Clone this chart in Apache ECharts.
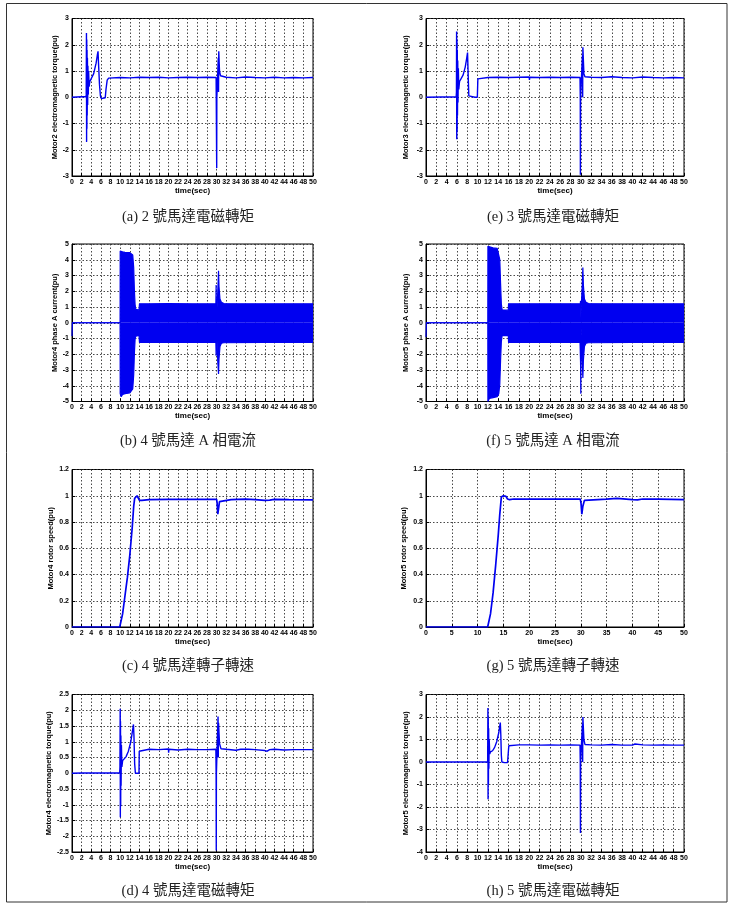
<!DOCTYPE html>
<html><head><meta charset="utf-8">
<script src="https://cdn.jsdelivr.net/npm/echarts@6/dist/echarts.min.js"></script>
<style>html,body{margin:0;padding:0;background:#fff}#c{width:732px;height:906px}</style>
</head><body><div id="c"></div>
<script>
// ---------- data (time s, value pu) ----------
const motor2Torque = [[0,0],[1,0.01],[2,0.02],[2.9,0.02],[2.95,0.1],[3.0,2.45],[3.03,-1.7],[3.06,2.2],[3.09,-1.2],[3.12,1.8],[3.15,-0.7],[3.2,1.5],[3.25,-0.3],[3.3,1.2],[3.38,0.1],[3.45,1.0],[3.55,0.4],[3.7,0.6],[4.0,0.66],[4.5,0.9],[5.0,1.3],[5.25,1.6],[5.4,1.75],[5.5,1.3],[5.7,0.5],[5.9,0.05],[6.1,-0.05],[6.5,-0.06],[6.9,-0.02],[7.05,0.3],[7.3,0.65],[7.6,0.73],[8,0.74],[10,0.75],[12,0.74],[14,0.76],[16,0.75],[18,0.76],[20,0.74],[20.05,0.68],[20.1,0.76],[22,0.75],[24,0.76],[26,0.75],[28,0.76],[29.9,0.75],[30.0,0.7],[30.02,-2.7],[30.05,0],[30.3,0],[30.35,1.5],[30.4,0.2],[30.45,1.75],[30.6,1.0],[30.8,0.82],[31.2,0.78],[32,0.76],[34,0.74],[36,0.77],[38,0.75],[40,0.74],[42,0.76],[44,0.74],[46,0.75],[48,0.74],[50,0.75]];
const motor3Torque = [[0,0],[3,0.01],[5.85,0.01],[5.9,0.2],[5.93,2.5],[5.96,-1.6],[6.0,2.2],[6.03,-1.3],[6.06,1.8],[6.1,-0.7],[6.15,1.4],[6.2,-0.2],[6.27,1.1],[6.35,0.3],[6.5,0.6],[6.8,0.65],[7.2,0.85],[7.6,1.15],[7.9,1.5],[8.05,1.7],[8.15,1.0],[8.3,0.05],[8.6,0.0],[9.5,0.0],[9.95,0.0],[10.05,0.7],[10.2,0.74],[12,0.75],[14,0.76],[16,0.75],[18,0.76],[20,0.77],[20.05,0.66],[20.1,0.76],[22,0.75],[24,0.76],[26,0.75],[28,0.76],[29.85,0.75],[29.9,0],[29.92,-2.95],[29.95,0],[30.3,0],[30.33,1.6],[30.36,0],[30.4,1.9],[30.6,0.9],[30.8,0.78],[32,0.76],[34,0.75],[36,0.78],[38,0.75],[40,0.74],[42,0.77],[44,0.75],[46,0.74],[48,0.75],[50,0.74]];
const motor4CurUpper = [[0,0],[9.98,0],[10.0,4.55],[10.2,4.62],[10.5,4.5],[11,4.47],[12,4.45],[12.4,4.42],[12.6,4.3],[12.8,3.5],[12.95,2.0],[13.1,1.1],[13.25,0.85],[13.5,0.8],[13.9,0.8],[14.0,1.2],[16,1.2],[20,1.22],[25,1.2],[29.85,1.2],[29.9,2.4],[29.95,0.1],[30.15,0.1],[30.25,2.0],[30.4,3.3],[30.5,2.3],[30.7,1.5],[31,1.3],[31.5,1.22],[35,1.2],[40,1.2],[45,1.2],[50,1.2]];
const motor4CurLower = [[0,-0.85],[0.08,0],[9.98,0],[10.0,-4.5],[10.2,-4.7],[10.5,-4.55],[11,-4.5],[12,-4.45],[12.4,-4.4],[12.6,-4.2],[12.8,-3.3],[12.95,-1.9],[13.1,-1.0],[13.25,-0.85],[13.5,-0.8],[13.9,-0.8],[14.0,-1.25],[20,-1.25],[25,-1.25],[29.85,-1.25],[29.9,-2.1],[29.95,-0.1],[30.15,-0.1],[30.25,-2.5],[30.4,-3.25],[30.5,-2.3],[30.7,-1.5],[31,-1.3],[31.5,-1.27],[40,-1.25],[50,-1.25]];
const motor5CurUpper = [[0,0],[11.98,0],[12.0,4.85],[12.3,4.8],[13,4.75],[13.8,4.72],[14.1,4.6],[14.3,4.0],[14.45,2.5],[14.6,1.2],[14.75,0.82],[15,0.8],[15.95,0.8],[16.0,1.2],[20,1.2],[25,1.2],[29.9,1.2],[29.95,1.4],[30.0,0.3],[30.2,0.2],[30.3,2.5],[30.4,3.5],[30.5,2.4],[30.7,1.5],[31,1.3],[31.5,1.22],[35,1.2],[40,1.2],[45,1.2],[50,1.2]];
const motor5CurLower = [[0,-0.9],[0.08,0],[11.98,0],[12.0,-5.0],[12.3,-4.8],[13,-4.75],[13.8,-4.7],[14.1,-4.5],[14.3,-3.9],[14.45,-2.4],[14.6,-1.2],[14.75,-0.82],[15,-0.8],[15.95,-0.8],[16.0,-1.25],[20,-1.25],[29.85,-1.25],[29.95,-2.5],[30.0,-4.5],[30.05,-0.3],[30.2,-0.2],[30.3,-2.6],[30.4,-3.5],[30.5,-2.4],[30.7,-1.5],[31,-1.3],[31.5,-1.27],[40,-1.25],[50,-1.25]];
const motor4Speed = [[0,0],[9.9,0],[10,0.005],[10.5,0.1],[11,0.24],[11.5,0.38],[12,0.55],[12.5,0.76],[12.8,0.92],[13.0,0.98],[13.2,0.995],[13.5,1.0],[13.8,0.99],[14.0,0.965],[14.5,0.965],[16,0.97],[20,0.972],[25,0.972],[30,0.972],[30.1,0.95],[30.25,0.86],[30.4,0.9],[30.6,0.955],[31,0.965],[33,0.97],[36,0.975],[38,0.97],[40,0.965],[41,0.967],[42,0.972],[45,0.97],[50,0.968]];
const motor5Speed = [[0,0],[11.95,0],[12.0,0.005],[12.5,0.1],[13,0.26],[13.5,0.47],[14,0.7],[14.3,0.86],[14.6,0.99],[15,1.0],[15.5,0.995],[15.8,0.975],[16.2,0.97],[17,0.975],[20,0.975],[25,0.975],[29.9,0.975],[30.05,0.94],[30.2,0.86],[30.4,0.92],[30.7,0.965],[31,0.97],[35,0.975],[37,0.98],[40,0.97],[41,0.968],[42,0.975],[45,0.975],[50,0.97]];
const motor4Torque = [[0,0],[2,0.01],[9.9,0.01],[9.95,0.2],[10.0,2.05],[10.03,-1.4],[10.06,1.65],[10.1,-1.05],[10.14,1.2],[10.18,-0.4],[10.25,0.9],[10.35,0.2],[10.5,0.4],[10.8,0.42],[11.2,0.52],[11.7,0.7],[12.2,1.0],[12.5,1.3],[12.75,1.55],[12.85,1.2],[13.0,0.3],[13.15,0.0],[13.9,0.0],[13.95,0.7],[14.1,0.73],[16,0.76],[18,0.75],[20,0.77],[20.05,0.65],[20.1,0.76],[22,0.74],[24,0.76],[26,0.75],[28,0.75],[29.85,0.76],[29.9,0],[29.93,-2.45],[29.96,0],[30.25,0],[30.3,1.8],[30.35,0.5],[30.4,1.6],[30.6,0.95],[30.9,0.78],[32,0.76],[34,0.73],[35,0.76],[36,0.76],[36.2,0.82],[36.6,0.76],[38,0.75],[40,0.72],[40.5,0.70],[41,0.75],[42,0.76],[44,0.74],[46,0.75],[48,0.75],[50,0.75]];
const motor5Torque = [[0,0],[11.95,0.0],[12.0,2.4],[12.03,-1.65],[12.06,2.0],[12.1,-1.0],[12.14,1.5],[12.18,-0.3],[12.25,1.0],[12.35,0.35],[12.5,0.45],[12.9,0.5],[13.3,0.65],[13.7,0.9],[14.1,1.3],[14.4,1.75],[14.5,1.2],[14.6,0.3],[14.7,0.0],[15.2,-0.03],[15.8,-0.02],[15.95,0.0],[16.05,0.72],[16.2,0.75],[18,0.76],[20,0.76],[20.05,0.7],[20.1,0.78],[22,0.75],[24,0.76],[26,0.75],[28,0.76],[29.85,0.75],[29.9,0],[29.93,-3.15],[29.96,0],[30.3,0],[30.33,1.7],[30.36,0],[30.4,2.0],[30.6,1.0],[30.8,0.78],[32,0.76],[34,0.75],[36,0.78],[38,0.75],[40,0.75],[40.5,0.8],[42,0.76],[44,0.75],[46,0.76],[48,0.75],[50,0.75]];

const yNames = ['Motor2 electromagnetic torque(pu)','Motor3 electromagnetic torque(pu)','Motor4 phase A current(pu)','Motor5 phase A current(pu)','Motor4 rotor speed(pu)','Motor5 rotor speed(pu)','Motor4 electromagnetic torque(pu)','Motor5 electromagnetic torque(pu)'];
const captions = ['(a) 2 號馬達電磁轉矩','(e) 3 號馬達電磁轉矩','(b) 4 號馬達 A 相電流','(f) 5 號馬達 A 相電流','(c) 4 號馬達轉子轉速','(g) 5 號馬達轉子轉速','(d) 4 號馬達電磁轉矩','(h) 5 號馬達電磁轉矩'];
const yRanges = [[-3,3,1],[-3,3,1],[-5,5,1],[-5,5,1],[0,1.2,0.2],[0,1.2,0.2],[-2.5,2.5,0.5],[-4,3,1]];
const xIntervals = [2,2,2,2,2,5,2,2];
const xName = 'time(sec)';

// ---------- layout ----------
const colLeft = [72, 426], colWidth = [241, 258];
const rowTop = [18.5, 244, 469.5, 694.5], rowHeight = 157.5;
const nameGaps = [13,16,13,16,16,18,18,16];
const captionX = [188, 553], captionY = [217, 441, 666, 891];
const panelLines = [[motor2Torque],[motor3Torque],[],[],[motor4Speed],[motor5Speed],[motor4Torque],[motor5Torque]];
const panelBands = [null,null,[motor4CurUpper,motor4CurLower],[motor5CurUpper,motor5CurLower],null,null,null,null];
const lineWidths = [1.4,1.4,1.2,1.2,1.7,1.7,1.4,1.4];

const BLUE = '#0000f0';
const tickFont = {fontSize:7, fontWeight:'bold', fontFamily:'"Liberation Sans", Arial, sans-serif', color:'#000'};
const grids=[], xAxes=[], yAxes=[], series=[], graphics=[];
for (let i=0;i<8;i++){
  const c=i%2, r=Math.floor(i/2);
  grids.push({left:colLeft[c], top:rowTop[r], width:colWidth[c], height:rowHeight, show:true, borderColor:'#000', borderWidth:1, containLabel:false});
  const grid={lineStyle:{color:'#333', width:0.9, type:[1.5,2]}};
  xAxes.push({type:'value', gridIndex:i, min:0, max:50, interval:xIntervals[i],
    axisLine:{show:true, onZero:false, lineStyle:{color:'#000'}},
    axisTick:{show:true, inside:true, length:3, lineStyle:{color:'#000'}},
    axisLabel:Object.assign({margin:2.5, showMinLabel:true, showMaxLabel:true}, tickFont),
    splitLine:Object.assign({show:true}, grid),
    name:xName, nameLocation:'middle', nameGap:10,
    nameTextStyle:{fontSize:8, fontWeight:'bold', fontFamily:'"Liberation Sans", Arial, sans-serif', color:'#000'}});
  const yr=yRanges[i];
  yAxes.push({type:'value', gridIndex:i, min:yr[0], max:yr[1], interval:yr[2],
    axisLine:{show:true, onZero:false, lineStyle:{color:'#000'}},
    axisTick:{show:true, inside:true, length:3, lineStyle:{color:'#000'}},
    axisLabel:Object.assign({margin:3, showMinLabel:true, showMaxLabel:true}, tickFont),
    splitLine:Object.assign({show:true}, grid),
    name:yNames[i], nameLocation:'middle', nameGap:nameGaps[i], nameRotate:90,
    nameTextStyle:{fontSize:7.5, fontWeight:'bold', fontFamily:'"Liberation Sans", Arial, sans-serif', color:'#000'}});
  panelLines[i].forEach(d=>{
    series.push({type:'line', xAxisIndex:i, yAxisIndex:i, data:d, showSymbol:false, symbol:'none',
      lineStyle:{color:BLUE, width:lineWidths[i]}, z:3});
  });
  if (panelBands[i]) {
    panelBands[i].forEach(d=>{
      series.push({type:'line', xAxisIndex:i, yAxisIndex:i, data:d, showSymbol:false, symbol:'none',
        lineStyle:{color:BLUE, width:lineWidths[i]}, areaStyle:{color:BLUE, opacity:1}, z:3});
    });
  }
  graphics.push({type:'text', x:captionX[c], y:captionY[r], silent:true,
    style:{text:captions[i], fill:'#222', align:'center', verticalAlign:'middle',
      font:'14.5px "Liberation Serif", "Noto Sans CJK TC", serif'}});
}
graphics.push({type:'rect', shape:{x:6.5, y:3.5, width:720.5, height:898.5}, silent:true,
  style:{fill:'none', stroke:'#333', lineWidth:1}});

const chart = echarts.init(document.getElementById('c'));
chart.setOption({animation:false, backgroundColor:'#fff', grid:grids, xAxis:xAxes, yAxis:yAxes, series:series, graphic:graphics});
</script>
</body></html>
